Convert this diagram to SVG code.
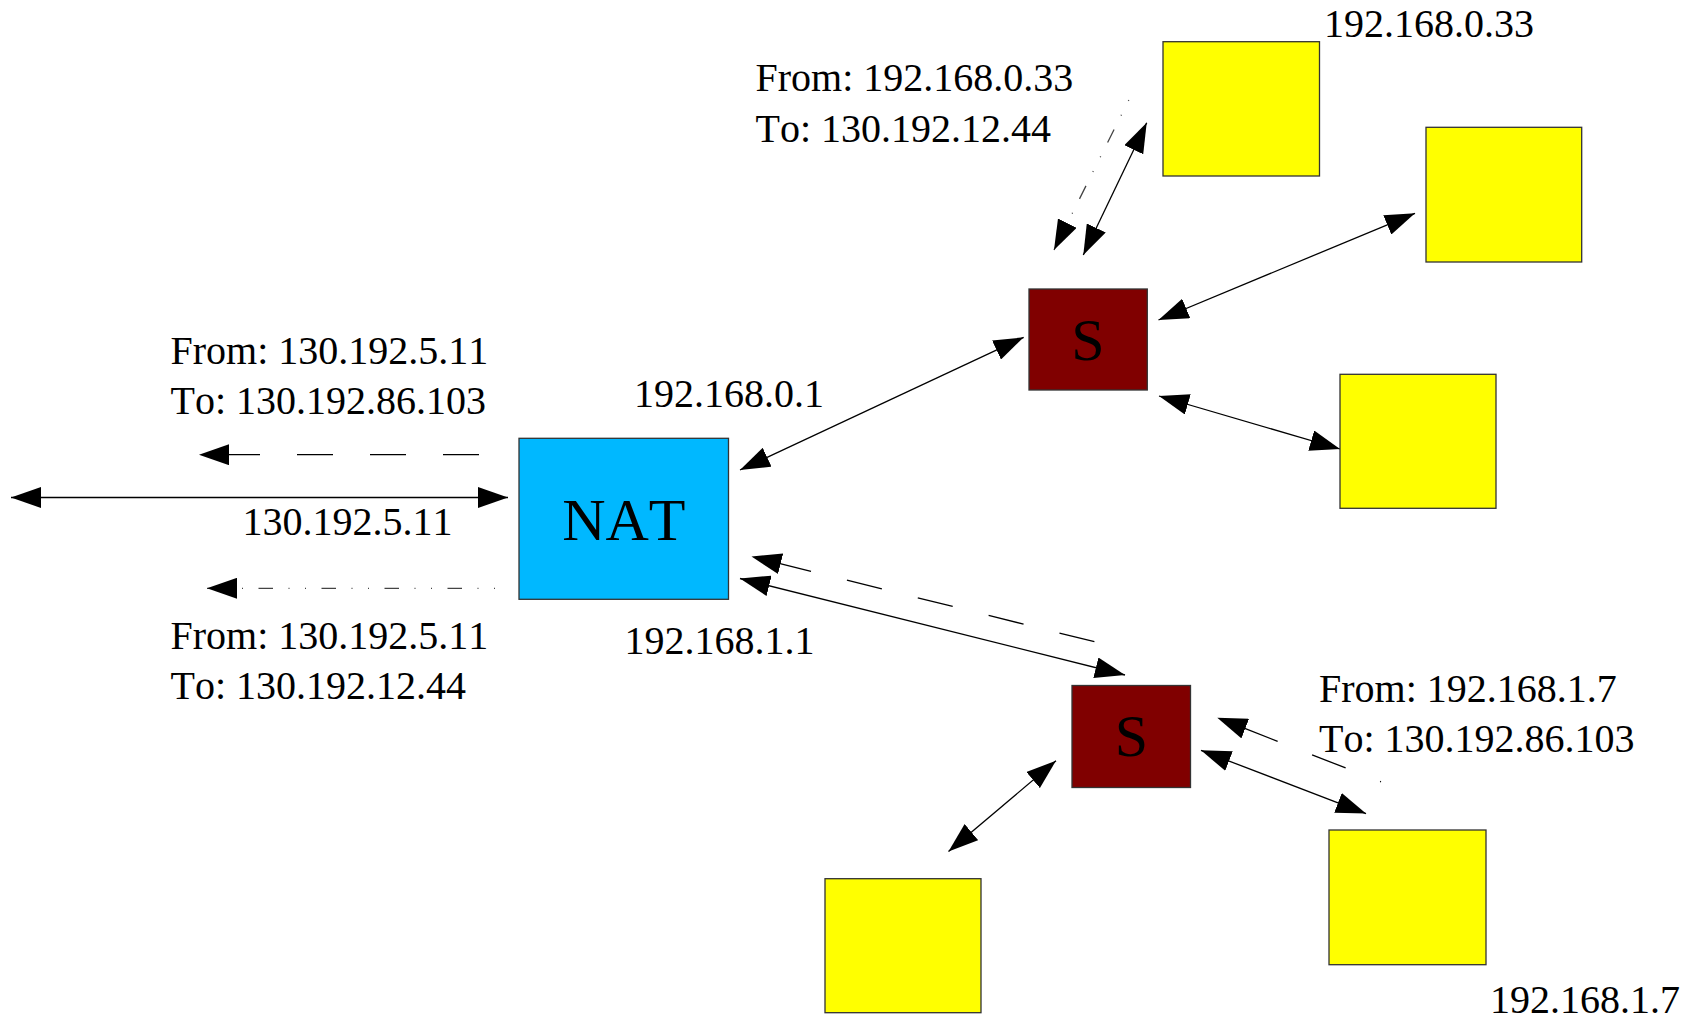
<svg xmlns="http://www.w3.org/2000/svg" width="1692" height="1021" viewBox="0 0 1692 1021">
<style>
.box{stroke:#333;stroke-width:1.3}
.host{fill:#ffff00}
.sw{fill:#800000}
.nat{fill:#00b8ff}
text{font-family:"Liberation Serif","Times New Roman",serif;font-size:40px;fill:#000;font-kerning:none}
.big{font-size:60px;text-anchor:middle}
.ln{stroke:#000;stroke-width:1.3;fill:none}
.dash{stroke-dasharray:36 37}
.dd{stroke:#444;stroke-dasharray:1 15.5 1 15.5 14.5 15.5}
</style>
<defs>
<marker id="ah" markerUnits="userSpaceOnUse" viewBox="0 0 30 21" refX="30" refY="10.5" markerWidth="30" markerHeight="21" orient="auto-start-reverse">
<path d="M0,0 L30,10.5 L0,21 z" fill="#000"/>
</marker>
</defs>
<rect width="1692" height="1021" fill="#fff"/>
<g id="connectors">
<line class="ln" x1="11" y1="497.5" x2="508" y2="497.5" marker-start="url(#ah)" marker-end="url(#ah)"/>
<line class="ln dash" x1="479" y1="454.7" x2="199" y2="454.7" marker-end="url(#ah)"/>
<line class="ln dd" x1="495" y1="588.3" x2="207" y2="588.3" marker-end="url(#ah)"/>
<line class="ln" x1="740" y1="470" x2="1023.7" y2="337.3" marker-start="url(#ah)" marker-end="url(#ah)"/>
<line class="ln" x1="1158.5" y1="320" x2="1415" y2="213.3" marker-start="url(#ah)" marker-end="url(#ah)"/>
<line class="ln" x1="1159" y1="396" x2="1340" y2="449" marker-start="url(#ah)" marker-end="url(#ah)"/>
<line class="ln" x1="1146.7" y1="122.7" x2="1083.3" y2="255" marker-start="url(#ah)" marker-end="url(#ah)"/>
<line class="ln dd" x1="1128.8" y1="100" x2="1054" y2="250" marker-end="url(#ah)"/>
<line class="ln" x1="740" y1="578.5" x2="1125" y2="675" marker-start="url(#ah)" marker-end="url(#ah)"/>
<line class="ln dash" x1="1094.4" y1="641.7" x2="751.5" y2="556.5" marker-end="url(#ah)"/>
<line class="ln" x1="1056" y1="760.7" x2="948.5" y2="851.5" marker-start="url(#ah)" marker-end="url(#ah)"/>
<line class="ln" x1="1201" y1="750.3" x2="1366" y2="813.6" marker-start="url(#ah)" marker-end="url(#ah)"/>
<line class="ln dash" style="stroke-dashoffset:35" x1="1381" y1="781.8" x2="1217.3" y2="717.7" marker-end="url(#ah)"/>
</g>
<g id="nat">
<rect class="box nat" x="519" y="438.3" width="209.5" height="161"/>
<text class="big" x="623.8" y="540">NAT</text>
</g>
<g id="switch1">
<rect class="box sw" x="1029" y="289" width="118.3" height="101"/>
<text class="big" x="1088" y="360">S</text>
</g>
<g id="switch2">
<rect class="box sw" x="1072" y="685.5" width="118.5" height="102"/>
<text class="big" x="1131.5" y="756">S</text>
</g>
<g id="host1"><rect class="box host" x="1163" y="41.7" width="156.5" height="134.3"/></g>
<g id="host2"><rect class="box host" x="1426" y="127.3" width="155.7" height="134.7"/></g>
<g id="host3"><rect class="box host" x="1340" y="374.3" width="156" height="134"/></g>
<g id="host4"><rect class="box host" x="825" y="878.7" width="156" height="134"/></g>
<g id="host5"><rect class="box host" x="1329" y="830" width="157" height="134.7"/></g>
<g id="labels">
<text x="1324" y="37">192.168.0.33</text>
<text x="755.5" y="91">From: 192.168.0.33</text>
<text x="755.5" y="141.5">To: 130.192.12.44</text>
<text x="170.5" y="364">From: 130.192.5.11</text>
<text x="170.5" y="414">To: 130.192.86.103</text>
<text x="634" y="406.5">192.168.0.1</text>
<text x="242.5" y="535">130.192.5.11</text>
<text x="170.5" y="648.5">From: 130.192.5.11</text>
<text x="170.5" y="699">To: 130.192.12.44</text>
<text x="624.5" y="653.5">192.168.1.1</text>
<text x="1319" y="701.5">From: 192.168.1.7</text>
<text x="1319" y="751.5">To: 130.192.86.103</text>
<text x="1490" y="1013">192.168.1.7</text>
</g>
</svg>
